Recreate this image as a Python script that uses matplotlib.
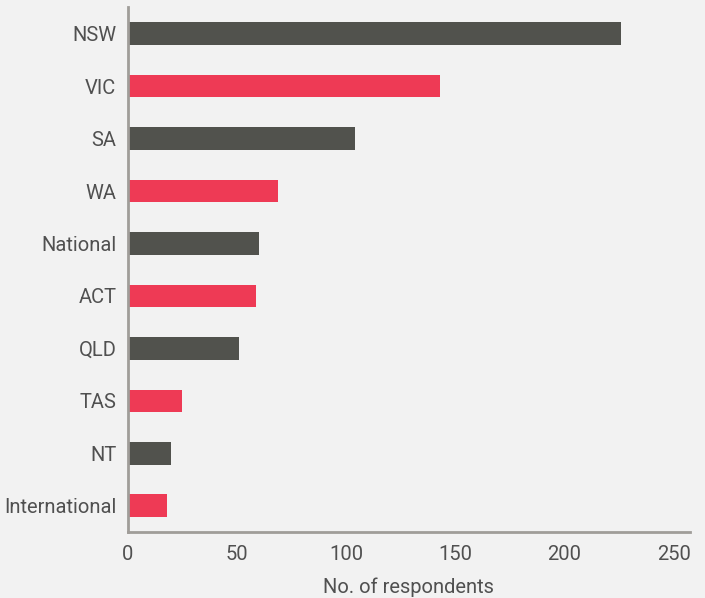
import matplotlib
matplotlib.use("Agg")
from matplotlib import pyplot as plt
from matplotlib import font_manager

# data, top to bottom as shown
regions = ["NSW", "VIC", "SA", "WA", "National", "ACT", "QLD", "TAS", "NT", "International"]
respondents = [226, 143, 104, 69, 60, 59, 51, 25, 20, 18]
bar_colours = ["#51524d", "#ee3a55"] * 5

plt.rcParams["font.family"] = ["Roboto", "DejaVu Sans"]

bg = "#f2f2f2"
txt = "#505050"
axis_col = "#a09d99"

fig = plt.figure(figsize=(7.05, 5.98), dpi=100, facecolor=bg)
ax = fig.add_axes([127.5 / 705, 1 - 532 / 598, (690 - 127.5) / 705, (532 - 7.5) / 598])
ax.set_facecolor(bg)

ax.barh(regions, respondents, height=0.43, color=bar_colours)
ax.set_ylim(len(regions) - 0.5, -0.5)
ax.set_xlim(0, 257.5)
ax.set_xticks([0, 50, 100, 150, 200, 250])

for s in ["top", "right"]:
    ax.spines[s].set_visible(False)
for s in ["left", "bottom"]:
    ax.spines[s].set_color(axis_col)
    ax.spines[s].set_linewidth(2)

ax.tick_params(axis="both", length=0, labelsize=14.5, labelcolor=txt)
ax.tick_params(axis="x", pad=9)
ax.tick_params(axis="y", pad=8)
ax.set_xlabel("No. of respondents", fontsize=14.5, color=txt, labelpad=10)

fig.savefig("out.png", dpi=100, facecolor=bg)
